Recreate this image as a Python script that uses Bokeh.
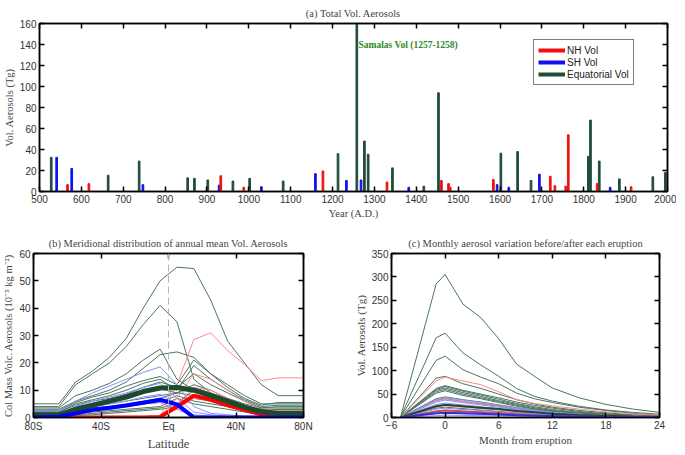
from bokeh.plotting import figure
from bokeh.layouts import column, row
from bokeh.models import (FixedTicker, LinearAxis, Legend, LegendItem, Span,
                          Range1d, Label)
from bokeh.embed import file_html
from bokeh.resources import INLINE

# ---------------- data: panel (a) ----------------
nh_years = [567, 618, 933, 988, 1177, 1330, 1460, 1477, 1481, 1584, 1720, 1731, 1757, 1763, 1832, 1913]
nh_vals = [6.5, 7.5, 15, 4, 19.5, 9, 10.5, 7.5, 4, 11.5, 14.5, 5.5, 5, 54, 7.5, 4.5]
sh_years = [541, 577, 747, 929, 1030, 1159, 1233, 1268, 1382, 1593, 1621, 1694, 1863]
sh_vals = [32.5, 22, 6.5, 6, 4.5, 17, 10.5, 11, 4, 6.5, 4, 16.5, 4]
eq_years = [528, 664, 738, 854, 870, 902, 962, 1002, 1082, 1213, 1258, 1276, 1285, 1343,
            1418, 1453, 1602, 1642, 1674, 1811, 1816, 1837, 1885, 1965, 1995]
eq_vals = [32.5, 15.5, 29, 13, 12.5, 11, 10, 12.5, 10, 36, 160, 48, 35.5, 22.5,
           5, 94, 36.5, 38, 10.5, 33.5, 68, 29, 12, 14, 18]
year_ticks = list(range(500, 2001, 100))
a_y_ticks = list(range(0, 161, 20))

# ---------------- data: panel (b) ----------------
lats = [-80, -65, -55, -45, -35, -25, -15, -5, 5, 15, 25, 35, 45, 55, 65, 80]
b_green_thin = [
    [5, 5, 13, 17, 22, 29, 40, 50, 55, 54.5, 43, 28, 20, 12, 8, 8],
    [4, 4, 12, 16, 20, 26, 34, 41, 35, 14, 9, 7, 5, 3.5, 3.5, 3.5],
    [3.5, 3.5, 8, 10, 12.5, 16, 21, 25, 14, 10, 7, 5, 4, 3, 3, 3],
    [3, 3, 6, 8, 10, 13, 18, 23, 24, 22, 16, 11, 7, 4.5, 5.5, 5.5],
    [2.5, 2.5, 5.5, 7.5, 9, 11.5, 13.5, 15, 12, 21, 16, 12, 8, 5, 5, 5],
    [2, 2, 5, 6.5, 8, 10, 12.5, 14, 10, 19, 14, 10, 6.5, 4, 4.5, 4.5],
    [2, 2, 4.5, 6, 7, 8.5, 11, 13, 11, 16, 12, 9, 6, 3.5, 4, 4],
    [1.5, 1.5, 3.5, 5, 6, 7.5, 9, 10.5, 9, 12, 10, 7, 4.5, 2.5, 3, 3],
    [1, 1, 3, 4, 5, 6, 7, 8, 9, 11, 9, 6, 4, 2, 2.5, 2.5],
    [1, 1, 2.5, 3.5, 4, 5, 6, 7, 9, 8, 7, 5, 3, 1.5, 2, 2],
    [0.5, 0.5, 2, 3, 3.5, 4, 5, 5.5, 8, 6, 5, 4, 2.5, 1, 1.5, 1.5],
    [0.5, 0.5, 1.5, 2, 2.5, 3, 3.5, 4, 7, 5, 4, 3, 2, 1, 1, 1],
    [0.3, 0.3, 1, 1.5, 2, 2.5, 3, 3.5, 5, 10, 8, 5.5, 3.5, 1.5, 1, 1],
    [0.2, 0.2, 0.8, 1, 1.5, 2, 2.5, 3, 4, 7, 6, 4, 2.5, 1, 0.8, 0.8],
]
b_blue_thin = [
    [2.5, 2.5, 6, 9, 11.5, 14, 16.5, 18.5, 12, 4, 1.5, 1, 0.5, 0.5, 0.5, 0.5],
    [1.5, 1.5, 4, 6, 7.5, 9, 11, 12.5, 7, 2, 1, 0.5, 0.3, 0.3, 0.3, 0.3],
    [1, 1, 2.5, 4, 5, 6, 7.5, 8.5, 5, 1, 0.5, 0.3, 0.2, 0.2, 0.2, 0.2],
    [0.5, 0.5, 1.5, 2.5, 3, 4, 5, 5.5, 3, 0.5, 0.3, 0.2, 0.1, 0.1, 0.1, 0.1],
]
b_red_thin = [
    [0, 0, 0, 0, 0, 0, 0, 0.5, 12, 28.5, 31, 24.5, 19.5, 13.5, 14.5, 14.5],
    [0, 0, 0, 0, 0, 0, 0, 0.5, 7, 16, 14, 10, 6, 3, 2.5, 2.5],
    [0, 0, 0, 0, 0, 0, 0, 0.5, 5, 11, 10, 7, 4, 2, 1.5, 1.5],
    [0, 0, 0, 0, 0, 0, 0, 0.3, 3, 7, 6.5, 5, 3, 1.5, 1, 1],
]
b_green_mean = [1, 1, 3, 4.5, 6, 7.5, 9.5, 10.8, 11, 10, 8, 6, 3.8, 2.2, 1.5, 1.5]
b_blue_mean = [0, 0.3, 1.5, 2.8, 3.6, 4.4, 5.4, 6.5, 4.8, 0, 0, 0, 0, 0, 0, 0]
b_red_mean = [0, 0, 0, 0, 0, 0, 0, 0.2, 4, 8, 6.5, 4.5, 2.8, 1.2, 0.8, 0.8]
lat_ticks = [-80, -40, 0, 40, 80]
lat_labels = ["80S", "40S", "Eq", "40N", "80N"]
b_y_ticks = list(range(0, 61, 10))

# ---------------- data: panel (c) ----------------
months = [-5, -1, 0, 2, 4, 6, 8, 10, 12, 15, 18, 21, 24]
c_green_thin = [
    [0, 285, 305, 242, 213, 168, 114, 88, 63, 42, 28, 18, 11],
    [0, 170, 180, 138, 112, 88, 62, 45, 35, 24, 16, 11, 7],
    [0, 122, 131, 102, 86, 72, 52, 40, 32, 22, 15, 9, 5],
    [0, 84, 88, 72, 62, 50, 38, 29, 22, 15, 10, 6, 4],
    [0, 62, 68, 58, 50, 42, 33, 26, 20, 13, 8, 5, 3],
    [0, 60, 66, 56, 48, 39, 30, 23, 17, 11, 7, 4, 2.5],
    [0, 58, 63, 53, 45, 36, 28, 21, 15, 10, 6, 4, 2],
    [0, 55, 60, 50, 42, 34, 26, 19, 14, 9, 6, 3.5, 2],
    [0, 52, 57, 47, 40, 32, 24, 18, 13, 8, 5, 3, 2],
    [0, 40, 44, 38, 33, 27, 21, 16, 12, 8, 5, 3, 2],
    [0, 36, 40, 34, 29, 24, 18, 14, 10, 7, 4, 2.5, 1.5],
    [0, 20, 22, 19, 16, 13, 10, 8, 6, 4, 2.5, 1.5, 1],
    [0, 14, 16, 14, 12, 10, 8, 6, 4.5, 3, 2, 1, 0.5],
    [0, 9, 10, 9, 8, 6.5, 5, 4, 3, 2, 1.5, 1, 0.5],
]
c_blue_thin = [
    [0, 38, 42, 37, 32, 26, 20, 15, 11, 7, 4.5, 3, 2],
    [0, 33, 37, 32, 27, 22, 17, 13, 9, 6, 4, 2.5, 1.5],
    [0, 28, 31, 27, 23, 19, 15, 11, 8, 5, 3, 2, 1],
    [0, 18, 20, 17, 15, 12, 10, 8, 6, 4, 2.5, 1.5, 1],
    [0, 8, 9, 8, 7, 6, 5, 4, 3, 2, 1.5, 1, 0.5],
    [0, 4, 5, 4.5, 4, 3.5, 3, 2.5, 2, 1.5, 1, 0.5, 0.3],
]
c_red_thin = [
    [0, 78, 86, 78, 70, 55, 38, 30, 25, 18, 12, 8, 5],
    [0, 36, 39, 34, 30, 25, 19, 15, 11, 7, 4.5, 3, 2],
    [0, 22, 25, 22, 19, 16, 12, 9, 7, 5, 3, 2, 1],
    [0, 12, 14, 12, 10, 8, 6, 5, 4, 3, 2, 1, 0.5],
]
c_green_mean = [0, 24, 27, 24, 21, 18, 14, 11, 8, 5.5, 3.5, 2, 1.2]
c_red_mean = [0, 13, 15, 13, 11, 9, 7, 5, 4, 2.5, 1.5, 1, 0.5]
c_blue_mean = [0, 9, 10, 9, 8, 6.5, 5, 4, 3, 2, 1.3, 0.8, 0.5]
month_ticks = [-6, 0, 6, 12, 18, 24]
c_y_ticks = list(range(0, 351, 50))

# ---------------- styles ----------------
SERIF = "Liberation Serif"
SANS = "Liberation Sans"
NH_C = "#f01010"
SH_C = "#1010f0"
EQ_C = "#1f4d38"
THIN_G = "#4a7562"
THIN_B = "#8c8cff"
THIN_R = "#ff8a8a"
MEAN_G = "#1b4a2c"
TICK_TXT = "#333333"


def base_fig(fw, fh, xr, yr, title, borders):
    p = figure(frame_width=fw, frame_height=fh, x_range=Range1d(*xr), y_range=Range1d(*yr),
               output_backend="svg", toolbar_location=None, tools="",
               min_border_left=borders[0], min_border_right=borders[1],
               min_border_top=borders[2], min_border_bottom=borders[3])
    p.title.text = title
    p.title.text_font = SERIF
    p.title.text_font_style = "normal"
    p.title.text_font_size = "10.5px"
    p.title.align = "center"
    p.title.offset = 0
    p.xgrid.visible = False
    p.ygrid.visible = False
    p.outline_line_color = "black"
    p.outline_line_width = 1.5
    p.background_fill_color = "white"
    p.border_fill_color = "white"
    return p


def style_axis(ax, ticks, label, label_size="10.5px"):
    ax.ticker = FixedTicker(ticks=ticks)
    ax.axis_line_color = "black"
    ax.axis_line_width = 1.5
    ax.major_tick_in = 5
    ax.major_tick_out = 0
    ax.major_tick_line_width = 1.5
    ax.minor_tick_line_color = None
    ax.major_label_text_font = SANS
    ax.major_label_text_font_size = "10px"
    ax.major_label_text_color = TICK_TXT
    ax.major_label_standoff = 3
    ax.axis_label = label
    ax.axis_label_text_font = SERIF
    ax.axis_label_text_font_style = "normal"
    ax.axis_label_text_font_size = label_size
    ax.axis_label_standoff = 2


def add_tick_only_axes(p, xticks, yticks):
    for loc, ticks in (("above", xticks), ("right", yticks)):
        ax = LinearAxis(ticker=FixedTicker(ticks=ticks))
        ax.axis_line_color = "black"
        ax.axis_line_width = 1.5
        ax.major_tick_in = 5
        ax.major_tick_out = 0
        ax.major_tick_line_width = 1.5
        ax.minor_tick_line_color = None
        ax.major_label_text_color = None
        ax.major_label_text_font_size = "0px"
        ax.major_label_standoff = 0
        ax.axis_label_standoff = 0
        p.add_layout(ax, loc)


# ---------------- panel (a) ----------------
pa = base_fig(628, 168, (500, 2000), (0, 160), "(a) Total Vol. Aerosols", (32, 9, 12, 34))
style_axis(pa.xaxis[0], year_ticks, "Year (A.D.)")
style_axis(pa.yaxis[0], a_y_ticks, "Vol. Aerosols (Tg)")
add_tick_only_axes(pa, year_ticks, a_y_ticks)

pa.vbar(x=eq_years, top=eq_vals, width=4, color=EQ_C)
pa.vbar(x=sh_years, top=sh_vals, width=4, color=SH_C)
pa.vbar(x=nh_years, top=nh_vals, width=4, color=NH_C)

# legend proxies (hidden renderers; legend still draws their glyphs)
l_nh = pa.line(nh_years, nh_vals, line_color=NH_C, line_width=4, visible=False)
l_sh = pa.line(sh_years, sh_vals, line_color=SH_C, line_width=4, visible=False)
l_eq = pa.line(eq_years, eq_vals, line_color=EQ_C, line_width=4, visible=False)
legend = Legend(items=[LegendItem(label="NH Vol", renderers=[l_nh]),
                       LegendItem(label="SH Vol", renderers=[l_sh]),
                       LegendItem(label="Equatorial Vol", renderers=[l_eq])],
                location=(494, 106), border_line_color="black", border_line_width=1.5,
                label_text_font=SANS, label_text_font_size="10px", label_text_color="#222222",
                glyph_width=27, glyph_height=12, label_height=12, spacing=0,
                padding=4, margin=0, label_standoff=2, click_policy="none",
                inactive_fill_alpha=0)
pa.add_layout(legend)

pa.add_layout(Label(x=1262, y=140, text="Samalas Vol (1257-1258)", text_font=SERIF,
                    text_font_style="bold", text_font_size="9.5px", text_color="#2a8a2a",
                    text_baseline="middle", text_align="left"))

# ---------------- panel (b) ----------------
pb = base_fig(270, 164, (-80, 80), (0, 60),
              "(b) Meridional distribution of annual mean Vol. Aerosols", (32, 30, 28, 30))
style_axis(pb.xaxis[0], lat_ticks, "Latitude", "12.5px")
pb.xaxis[0].major_label_overrides = dict(zip(lat_ticks, lat_labels))
style_axis(pb.yaxis[0], b_y_ticks, "Col Mass Volc. Aerosols (10\u207b\u2075 kg m\u207b\u00b2)", "10.5px")
add_tick_only_axes(pb, lat_ticks, b_y_ticks)

pb.add_layout(Span(location=0, dimension="height", line_color="#b5b5b5",
                   line_dash="7 4", line_width=1))
for ys in b_green_thin:
    pb.line(lats, ys, line_color=THIN_G, line_width=1)
for ys in b_blue_thin:
    pb.line(lats, ys, line_color=THIN_B, line_width=1)
for ys in b_red_thin:
    pb.line(lats, ys, line_color=THIN_R, line_width=1)
pb.line(lats, b_red_mean, line_color="#ff0000", line_width=4)
pb.line(lats, b_green_mean, line_color=MEAN_G, line_width=5)
pb.line(lats, b_blue_mean, line_color="#0000ff", line_width=4)

# ---------------- panel (c) ----------------
pc = base_fig(268, 164, (-6, 24), (0, 350),
              "(c) Monthly aerosol variation before/after each eruption", (58, 9, 28, 30))
style_axis(pc.xaxis[0], month_ticks, "Month from eruption", "11px")
style_axis(pc.yaxis[0], c_y_ticks, "Vol. Aerosols (Tg)", "11px")
add_tick_only_axes(pc, month_ticks, c_y_ticks)

for ys in c_green_thin:
    pc.line(months, ys, line_color=THIN_G, line_width=1)
for ys in c_red_thin:
    pc.line(months, ys, line_color=THIN_R, line_width=1)
for ys in c_blue_thin:
    pc.line(months, ys, line_color=THIN_B, line_width=1)
pc.line(months, c_green_mean, line_color=MEAN_G, line_width=2)
pc.line(months, c_red_mean, line_color="#e04040", line_width=1.5)
pc.line(months, c_blue_mean, line_color="#3030e0", line_width=2)

layout = column(pa, row(pb, pc))
open("out.html", "w").write(file_html(layout, INLINE))
